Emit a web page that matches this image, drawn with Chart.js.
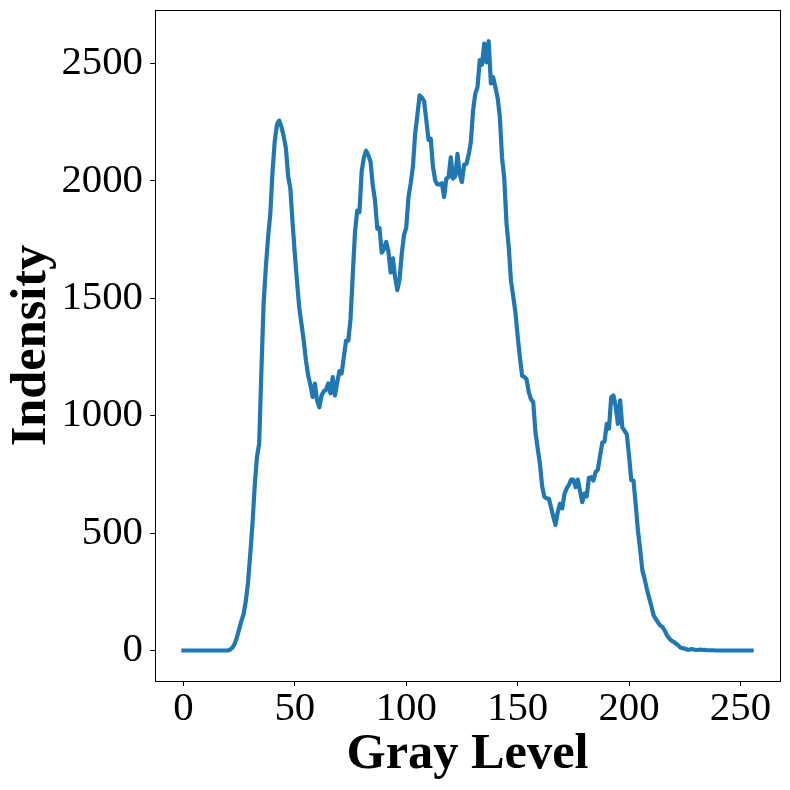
<!DOCTYPE html>
<html>
<head>
<meta charset="utf-8">
<style>html,body{margin:0;padding:0;background:#fff}canvas{display:block}</style>
<script src="https://cdn.jsdelivr.net/npm/chart.js@4/dist/chart.umd.min.js"></script>
</head>
<body>
<canvas id="c" width="790" height="790"></canvas>
<script>
const xTicks = [0, 50, 100, 150, 200, 250];
const yTicks = [0, 500, 1000, 1500, 2000, 2500];
const xTitle = "Gray Level";
const yTitle = "Indensity";
const intensity = [
0,0,0,0,0,0,0,0,0,0,0,0,0,0,0,0,0,0,0,0,
0,4,12,28,55,90,125,155,210,290,410,540,700,825,880,1190,1480,1633,1760,1860,
2040,2170,2240,2257,2230,2190,2140,2020,1967,1820,1690,1570,1460,1390,1320,1235,1171,1130,1080,1137,
1065,1036,1086,1104,1110,1137,1095,1164,1086,1140,1190,1180,1250,1320,1320,1410,1600,1780,1874,1867,
2040,2100,2129,2110,2080,1980,1917,1797,1800,1695,1710,1740,1700,1610,1670,1590,1535,1580,1690,1770,
1800,1930,1990,2060,2200,2280,2364,2355,2340,2260,2175,2180,2060,2002,1985,1985,1990,1931,2010,2016,
2100,2010,2020,2115,2030,1995,2070,2072,2110,2165,2300,2372,2400,2515,2495,2585,2505,2595,2415,2442,
2400,2355,2275,2100,2010,1820,1720,1575,1510,1440,1340,1250,1170,1165,1155,1100,1070,1058,930,860,
796,700,655,648,647,610,570,535,590,625,605,665,690,705,728,728,696,728,680,632,
668,656,736,738,724,760,770,830,885,890,965,945,1080,1086,1040,965,1065,950,935,920,
830,725,724,620,510,430,340,305,262,225,190,150,135,120,106,100,85,65,52,42,
37,30,22,13,10,8,4,3,6,4,2,2,4,2,3,1,1,1,1,0,
0,0,0,0,0,0,0,0,0,0,0,0,0,0,0,0
];
const points = intensity.map((v, i) => ({x: i, y: v}));
const serif = "'Liberation Serif','Times New Roman',serif";

const frame = {
  id: 'frame',
  afterDraw(chart) {
    const a = chart.chartArea, g = chart.ctx;
    g.save();
    g.strokeStyle = '#000';
    g.lineWidth = 1;
    g.strokeRect(Math.round(a.left) + 0.5, Math.round(a.top) + 0.5,
                 Math.round(a.right - a.left), Math.round(a.bottom - a.top));
    g.restore();
  }
};

new Chart(document.getElementById('c'), {
  type: 'line',
  data: {datasets: [{
    data: points,
    borderColor: '#1f77b4',
    borderWidth: 4.2,
    borderCapStyle: 'square',
    borderJoinStyle: 'round',
    pointRadius: 0,
    tension: 0,
    fill: false
  }]},
  plugins: [frame],
  options: {
    responsive: false,
    animation: false,
    devicePixelRatio: 1,
    layout: {padding: {top: 10, right: 10, left: 0, bottom: 0}},
    plugins: {legend: {display: false}, tooltip: {enabled: false}, title: {display: false}},
    scales: {
      x: {
        type: 'linear',
        min: -12.75,
        max: 267.75,
        afterBuildTicks(s) { s.ticks = xTicks.map(v => ({value: v})); },
        afterFit(s) { s.height = 109; s.paddingLeft = 0; s.paddingRight = 0; },
        grid: {display: true, drawTicks: true, tickLength: 5, tickColor: '#000', tickWidth: 1, drawOnChartArea: false},
        border: {display: false},
        ticks: {color: '#000', font: {family: serif, size: 40.8}, padding: -1, maxRotation: 0, autoSkip: false,
                 callback: v => String(v)},
        title: {display: true, text: xTitle, color: '#000', font: {family: serif, size: 50.4, weight: 'bold'}, padding: {top: 0, bottom: 5}}
      },
      y: {
        type: 'linear',
        min: -130,
        max: 2728,
        afterBuildTicks(s) { s.ticks = yTicks.map(v => ({value: v})); },
        afterFit(s) { s.width = 155; s.paddingTop = 0; s.paddingBottom = 0; },
        grid: {display: true, drawTicks: true, tickLength: 5, tickColor: '#000', tickWidth: 1, drawOnChartArea: false},
        border: {display: false},
        ticks: {color: '#000', font: {family: serif, size: 40.8}, padding: 7, autoSkip: false,
                 callback: v => String(v)},
        title: {display: true, text: yTitle, color: '#000', font: {family: serif, size: 50.4, weight: 'bold'}, padding: {top: 2, bottom: 0}}
      }
    }
  }
});
</script>
</body>
</html>
